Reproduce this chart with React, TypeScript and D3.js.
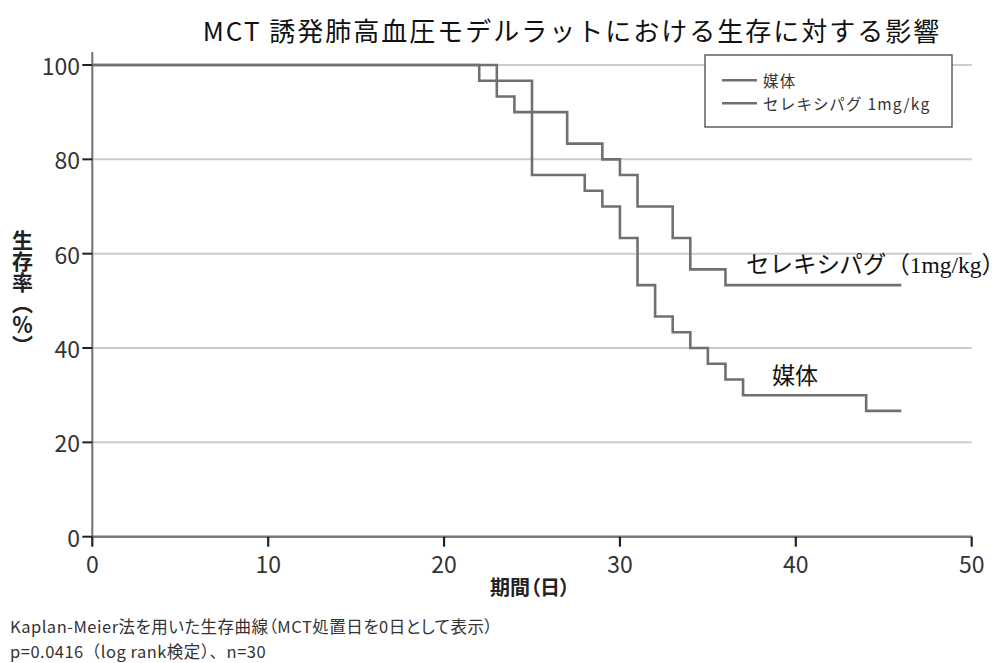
import React from "react";
import * as d3 from "d3";

// ---- data ----
const titleText = "MCT 誘発肺高血圧モデルラットにおける生存に対する影響";
const xTicks = [0, 10, 20, 30, 40, 50];
const yTicks = [0, 20, 40, 60, 80, 100];

const vehicleName = "媒体";
const vehicleDays = [0, 22, 25, 28, 29, 30, 31, 32, 33, 34, 35, 36, 37, 44, 46];
const vehicleSurv = [100, 96.67, 76.67, 73.33, 70, 63.33, 53.33, 46.67, 43.33, 40, 36.67, 33.33, 30, 26.67, 26.67];

const selexName = "セレキシパグ 1mg/kg";
const selexLabel = "セレキシパグ（1mg/kg）";
const selexDays = [0, 23, 24, 27, 29, 30, 31, 33, 34, 36, 46];
const selexSurv = [100, 93.33, 90, 83.33, 80, 76.67, 70, 63.33, 56.67, 53.33, 53.33];

const xLabel = "期間（日）";
const yLabel = "生存率（％）";
const footer1 = "Kaplan-Meier法を用いた生存曲線（MCT処置日を0日として表示）";
const footer2 = "p=0.0416（log rank検定）、n=30";

const SANS = "'Noto Sans CJK JP', 'Noto Sans', sans-serif";
const SERIF = "'Liberation Serif', 'Noto Sans CJK JP', serif";

export default function App() {
  const W = 1004, H = 663;
  const x = d3.scaleLinear().domain([0, 50]).range([92.3, 971.7]);
  const y = d3.scaleLinear().domain([0, 100]).range([536.7, 65]);

  const line = d3
    .line<[number, number]>()
    .x((d) => x(d[0]))
    .y((d) => y(d[1]))
    .curve(d3.curveStepAfter);

  const vehPts = vehicleDays.map((d, i) => [d, vehicleSurv[i]] as [number, number]);
  const selPts = selexDays.map((d, i) => [d, selexSurv[i]] as [number, number]);

  const lineColor = "#707070";

  return (
    <div style={{ position: "absolute", left: 0, top: 0 }}>
      <svg width={W} height={H} style={{ display: "block", background: "#fff" }}>
        {/* title */}
        <text x={572} y={29} textAnchor="middle" dominantBaseline="central"
          fontFamily={SANS} fontSize={26} letterSpacing={2} fill="#111">{titleText}</text>

        {/* grid */}
        {yTicks.map((t) => (
          <line key={"g" + t} x1={x(0)} x2={x(50)} y1={y(t)} y2={y(t)} stroke="#cccccc" strokeWidth={2} />
        ))}

        {/* axes */}
        <line x1={x(0)} x2={x(0)} y1={52} y2={y(0)} stroke="#707070" strokeWidth={2} />
        <line x1={x(0)} x2={x(50)} y1={y(0)} y2={y(0)} stroke="#7a7a7a" strokeWidth={2.5} />
        {xTicks.map((t) => (
          <g key={"xt" + t}>
            <line x1={x(t)} x2={x(t)} y1={y(0)} y2={y(0) + 10} stroke="#222" strokeWidth={2.2} />
            <text x={x(t)} y={573} textAnchor="middle" fontFamily={SANS} fontSize={23} fill="#333">{t}</text>
          </g>
        ))}
        {yTicks.map((t) => (
          <g key={"yt" + t}>
            <line x1={x(0) - 10} x2={x(0)} y1={y(t)} y2={y(t)} stroke="#222" strokeWidth={2} />
            <text x={80} y={y(t)} textAnchor="end" dominantBaseline="central" fontFamily={SANS} fontSize={23} fill="#333">{t}</text>
          </g>
        ))}

        {/* curves */}
        <path d={line(vehPts) || ""} fill="none" stroke={lineColor} strokeWidth={2.6} />
        <path d={line(selPts) || ""} fill="none" stroke={lineColor} strokeWidth={2.6} />

        {/* annotations */}
        <text x={746} y={265} dominantBaseline="central" fontFamily={SERIF} fontSize={23.5} fill="#111">{selexLabel}</text>
        <text x={772} y={376.5} dominantBaseline="central" fontFamily={SERIF} fontSize={23} fill="#111">{vehicleName}</text>

        {/* legend */}
        <rect x={705} y={55} width={247} height={72} fill="#fff" stroke="#555" strokeWidth={1.4} />
        <line x1={722} x2={757} y1={80.3} y2={80.3} stroke={lineColor} strokeWidth={2.6} />
        <line x1={722} x2={757} y1={103.3} y2={103.3} stroke={lineColor} strokeWidth={2.6} />
        <text x={763} y={80.3} dominantBaseline="central" fontFamily={SANS} fontSize={15.5} letterSpacing={1.2} fill="#333">{vehicleName}</text>
        <text x={763} y={103.3} dominantBaseline="central" fontFamily={SANS} fontSize={15.5} letterSpacing={1.2} fill="#333">{selexName}</text>

        {/* y label (vertical) */}
        <text x={22.5} y={230} writingMode="vertical-rl" fontFamily={SANS} fontSize={21} fontWeight="bold"
          fill="#222" style={{ writingMode: "vertical-rl" } as any}>{yLabel}</text>

        {/* x label */}
        <text x={530} y={595} textAnchor="middle" fontFamily={SANS} fontSize={20} fontWeight="bold" fill="#222"
          style={{ fontFeatureSettings: '"palt"' }}>{xLabel}</text>

        {/* footer */}
        <text x={10} y={633} fontFamily={SANS} fontSize={16.5} letterSpacing={0.5} fill="#333" style={{ fontFeatureSettings: '"palt"' }}>{footer1}</text>
        <text x={10} y={657.5} fontFamily={SANS} fontSize={16.5} letterSpacing={0.5} fill="#333">{footer2}</text>
      </svg>
    </div>
  );
}
